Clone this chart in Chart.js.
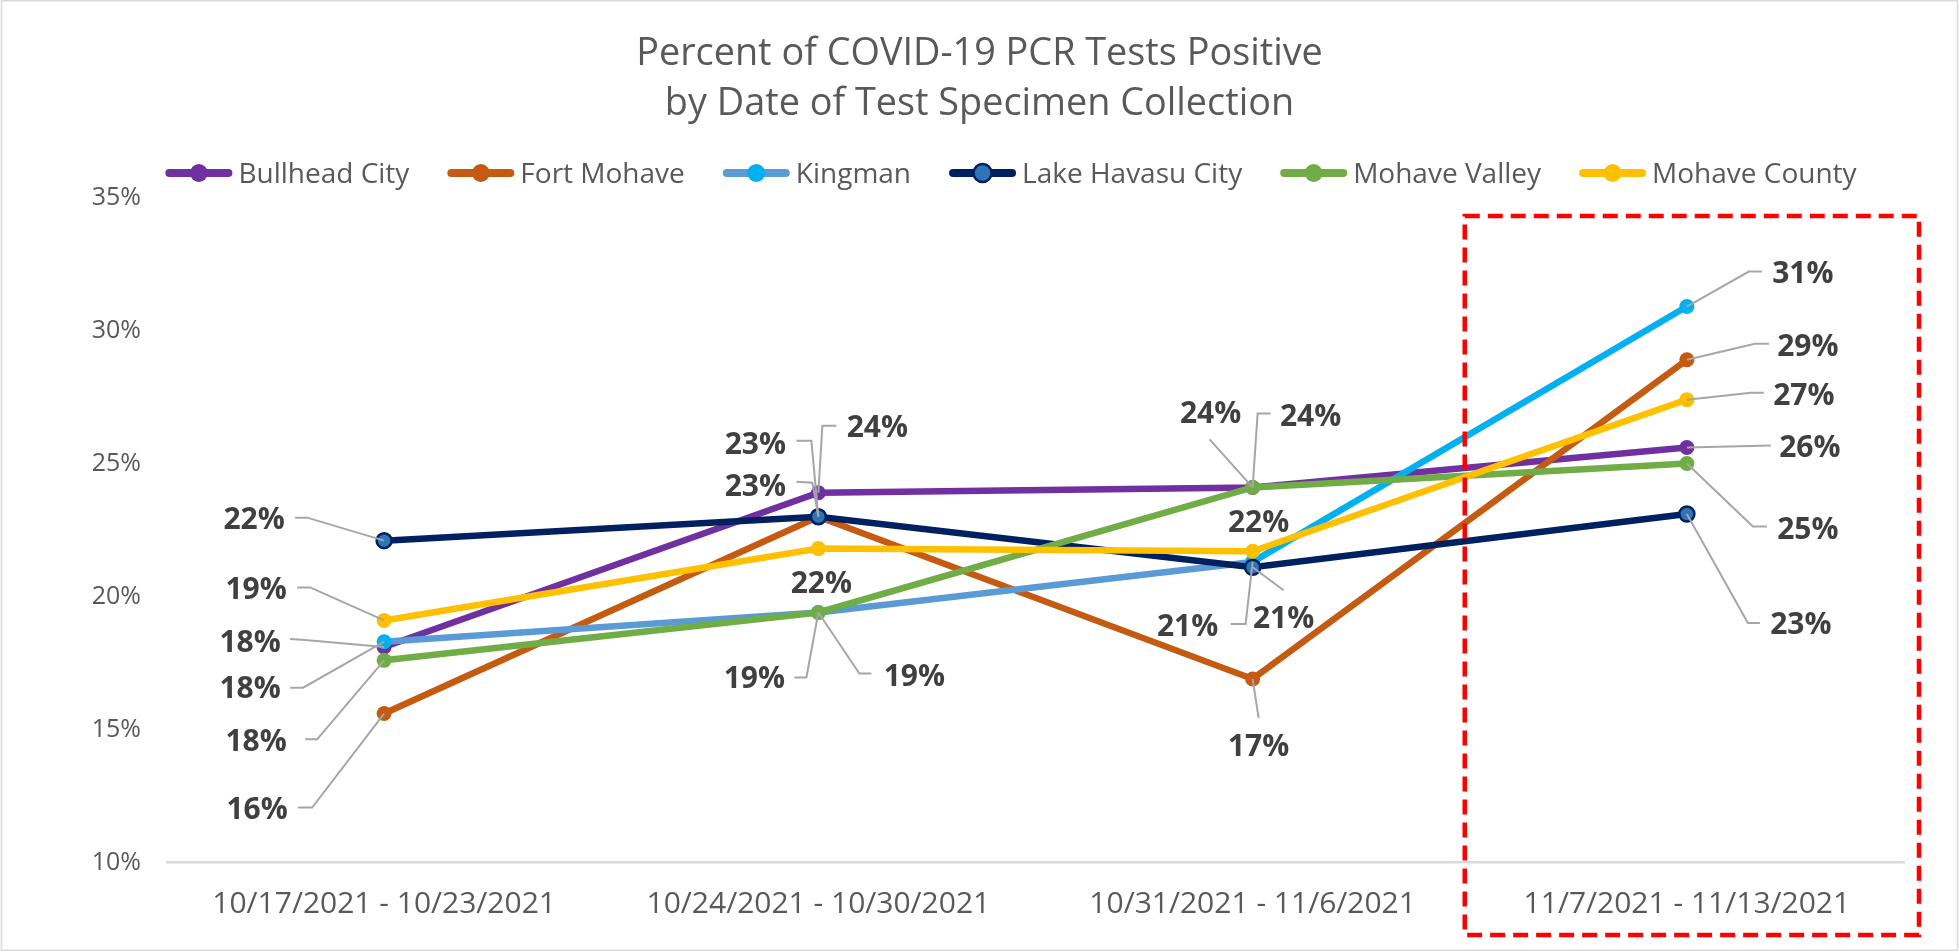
<!DOCTYPE html>
<html>
<head>
<meta charset="utf-8">
<script src="https://cdn.jsdelivr.net/npm/chart.js@4.4.1/dist/chart.umd.min.js"></script>
<style>
html,body{margin:0;padding:0;background:#fff;overflow:hidden}
#wrap{width:1959px;height:951px;position:relative}
</style>
</head>
<body>
<div id="wrap"><canvas id="c" width="1959" height="951"></canvas></div>
<script>
// ---- data ----
const categories = ['10/17/2021 - 10/23/2021', '10/24/2021 - 10/30/2021', '10/31/2021 - 11/6/2021', '11/7/2021 - 11/13/2021'];
const bullheadCity   = [18.1, 23.9, 24.1, 25.6];
const fortMohave     = [15.6, 23.0, 16.9, 28.9];
const kingman        = [18.3, 19.4, 21.3, 30.9];
const lakeHavasuCity = [22.1, 23.0, 21.1, 23.1];
const mohaveValley   = [17.6, 19.4, 24.1, 25.0];
const mohaveCounty   = [19.1, 21.8, 21.7, 27.4];
const seriesNames = ['Bullhead City', 'Fort Mohave', 'Kingman', 'Lake Havasu City', 'Mohave Valley', 'Mohave County'];
const seriesValues = [bullheadCity, fortMohave, kingman, lakeHavasuCity, mohaveValley, mohaveCounty];
const yTickValues = [10, 15, 20, 25, 30, 35];

// ---- styles ----
const FONT = '"Open Sans", "Liberation Sans", sans-serif';
const seriesStyles = [
  {line: '#7030A0', point: '#7030A0', border: '#7030A0', bw: 0},
  {line: '#C55A11', point: '#C55A11', border: '#C55A11', bw: 0},
  {line: '#5B9BD5', point: '#00B0F0', border: '#00B0F0', bw: 0, lastSegment: '#00B0F0'},
  {line: '#002060', point: '#2E75B6', border: '#002060', bw: 2.5},
  {line: '#70AD47', point: '#70AD47', border: '#70AD47', bw: 0},
  {line: '#FFC000', point: '#FFC000', border: '#FFC000', bw: 0}
];
// data label placement relative to its point: d = label centre offset, l = leader line bend points (ends at point)
const labelLayout = [
  [{d: [-134, -6], l: [[-94, -8], [-79, -7]]}, {d: [59, -66], l: [[18, -67], [4, -67]]}, {d: [-42, -75], l: [[-43, -48]]}, {d: [123, -1], l: [[84, -2]]}],
  [{d: [-127, 95], l: [[-86, 94], [-72, 94]]}, {d: [-63, -31], l: [[-22, -35], [-6, -34]]}, {d: [6, 66], l: [[6, 39]]}, {d: [121, -14], l: [[82, -16], [68, -16]]}],
  [{d: [-134, 46], l: [[-94, 46], [-81, 46]]}, {d: [-64, 65], l: [[-24, 65], [-12, 65]]}, {d: [-65, 63], l: [[-22, 62], [-7, 62]]}, {d: [116, -34], l: [[75, -35], [62, -35]]}],
  [{d: [-130, -22], l: [[-89, -23], [-77, -23]]}, {d: [-63, -73], l: [[-22, -76], [-7, -76]]}, {d: [31, 50], l: [[31, 23]]}, {d: [114, 109], l: [[73, 109], [61, 109]]}],
  [{d: [-128, 80], l: [[-79, 79], [-67, 79]]}, {d: [96, 63], l: [[53, 61], [41, 61]]}, {d: [58, -72], l: [[18, -74], [5, -74]]}, {d: [121, 65], l: [[80, 63], [66, 63]]}],
  [{d: [-128, -32], l: [[-87, -33], [-74, -33]]}, {d: [3, 34], l: []}, {d: [6, -30], l: []}, {d: [117, -5], l: [[77, -7], [64, -7]]}]
];

const bgPlugin = {
  id: 'bg',
  beforeDraw(chart) {
    const c = chart.ctx;
    c.save();
    c.fillStyle = '#ffffff';
    c.fillRect(0, 0, chart.width, chart.height);
    c.strokeStyle = '#D9D9D9';
    c.lineWidth = 1.5;
    c.strokeRect(1.5, 0.75, chart.width - 3, chart.height - 1.5);
    c.restore();
  }
};

const labelPlugin = {
  id: 'dataLabels',
  afterDatasetsDraw(chart) {
    const c = chart.ctx;
    c.save();
    const size = 30;
    c.font = 'bold ' + size + 'px ' + FONT;
    c.textAlign = 'center';
    c.textBaseline = 'alphabetic';
    chart.data.datasets.forEach((ds, i) => {
      const meta = chart.getDatasetMeta(i);
      meta.data.forEach((pt, j) => {
        const lay = labelLayout[i][j];
        if (lay.l.length) {
          c.strokeStyle = '#A6A6A6';
          c.lineWidth = 2;
          c.beginPath();
          c.moveTo(pt.x + lay.l[0][0], pt.y + lay.l[0][1]);
          for (let k = 1; k < lay.l.length; k++) c.lineTo(pt.x + lay.l[k][0], pt.y + lay.l[k][1]);
          c.lineTo(pt.x, pt.y);
          c.stroke();
        }
        c.fillStyle = '#404040';
        c.fillText(Math.round(ds.data[j]) + '%', pt.x + lay.d[0], pt.y + lay.d[1] + size * 0.357);
      });
    });
    c.restore();
  }
};

const extrasPlugin = {
  id: 'extras',
  afterDraw(chart) {
    const c = chart.ctx;
    const xs = chart.scales.x, ys = chart.scales.y;
    // legend
    c.save();
    const fs = 28;
    c.font = fs + 'px ' + FONT;
    const iconW = 67, gapIcon = 6, gapItem = 38, cy = 173;
    const widths = chart.data.datasets.map(d => c.measureText(d.label).width);
    let total = 0;
    widths.forEach((w, i) => { total += iconW + gapIcon + w + (i < widths.length - 1 ? gapItem : 0); });
    let x = 1011 - total / 2;
    chart.data.datasets.forEach((d, i) => {
      const st = seriesStyles[i];
      c.strokeStyle = st.line;
      c.lineWidth = 8;
      c.lineCap = 'round';
      c.beginPath();
      c.moveTo(x + 4, cy);
      c.lineTo(x + iconW - 4, cy);
      c.stroke();
      c.beginPath();
      c.arc(x + iconW / 2, cy, 9, 0, Math.PI * 2);
      c.fillStyle = st.point;
      c.fill();
      if (st.bw) { c.lineWidth = 2.5; c.strokeStyle = st.border; c.stroke(); }
      c.fillStyle = '#595959';
      c.textAlign = 'left';
      c.textBaseline = 'alphabetic';
      c.fillText(d.label, x + iconW + gapIcon, cy + fs * 0.357);
      x += iconW + gapIcon + widths[i] + gapItem;
    });
    // highlight box around the latest week
    const cxp = xs.getPixelForValue(3);
    const half = xs.width / categories.length / 2;
    const left = cxp - half - 5, right = cxp + half + 15;
    const top = ys.getPixelForValue(34.3), bottom = ys.bottom + 72.5;
    c.strokeStyle = '#FF0000';
    c.lineWidth = 4.5;
    c.lineCap = 'butt';
    c.setLineDash([15, 8]);
    c.strokeRect(left, top, right - left, bottom - top);
    c.restore();
  }
};

const ctx = document.getElementById('c').getContext('2d');
const chart = new Chart(ctx, {
  type: 'line',
  data: {
    labels: categories,
    datasets: seriesNames.map((name, i) => {
      const st = seriesStyles[i];
      const ds = {
        label: name,
        data: seriesValues[i],
        borderColor: st.line,
        backgroundColor: st.point,
        pointBackgroundColor: st.point,
        pointBorderColor: st.border,
        pointBorderWidth: st.bw,
        pointRadius: 7.5,
        pointHoverRadius: 7.5,
        borderWidth: 6.5,
        tension: 0,
        fill: false,
        order: seriesNames.length - i
      };
      if (st.lastSegment) {
        ds.segment = {borderColor: s => (s.p1DataIndex === categories.length - 1 ? st.lastSegment : undefined)};
      }
      return ds;
    })
  },
  options: {
    responsive: false,
    animation: false,
    devicePixelRatio: 1,
    layout: {padding: {left: 55, right: 55, top: 0, bottom: 0}},
    plugins: {
      legend: {display: false},
      tooltip: {enabled: false},
      title: {
        display: true,
        text: ['Percent of COVID-19 PCR Tests Positive', 'by Date of Test Specimen Collection'],
        color: '#595959',
        font: {family: FONT, size: 37.8, weight: 'normal', lineHeight: '50px'},
        padding: {top: 29, bottom: 68.5}
      }
    },
    scales: {
      x: {
        offset: true,
        grid: {display: false, drawTicks: false},
        border: {display: true, color: '#D9D9D9', width: 2.5},
        ticks: {color: '#595959', font: {family: FONT, size: 30}, padding: 24, maxRotation: 0, autoSkip: false},
        afterFit: s => { s.height = 88.5; }
      },
      y: {
        min: 10,
        max: 35,
        grid: {display: false, drawTicks: false},
        border: {display: false},
        afterBuildTicks: s => { s.ticks = yTickValues.map(v => ({value: v})); },
        ticks: {color: '#595959', font: {family: FONT, size: 25}, padding: 26, callback: v => v + '%'},
        afterFit: s => { s.width = 112; }
      }
    }
  },
  plugins: [bgPlugin, labelPlugin, extrasPlugin]
});
if (document.fonts && document.fonts.ready) {
  document.fonts.load('30px "Open Sans"').then(() => document.fonts.load('bold 30px "Open Sans"')).then(() => chart.update()).catch(() => {});
}
</script>
</body>
</html>
